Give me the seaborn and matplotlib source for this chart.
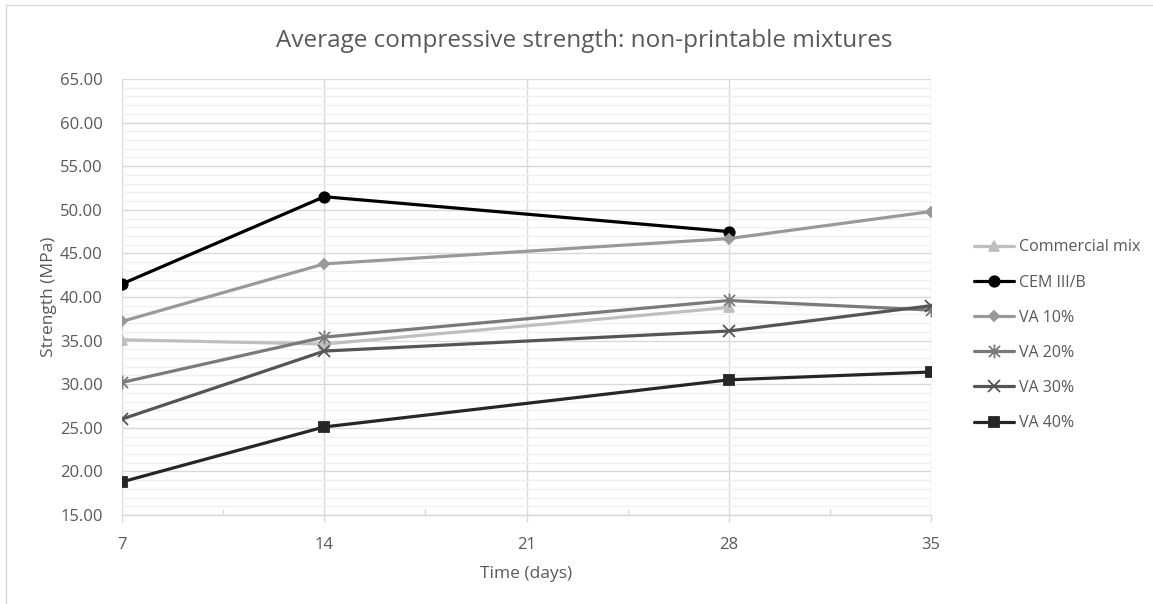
import matplotlib
matplotlib.use("Agg")
import matplotlib.pyplot as plt
from matplotlib.path import Path
from matplotlib.lines import Line2D
from matplotlib.ticker import MultipleLocator, FormatStrFormatter
import seaborn as sns

# Test ages (days) and average compressive strength (MPa)
days_short = [7, 14, 28]
days_full = [7, 14, 28, 35]

commercial_mix = [35.1, 34.6, 38.8]
cem_iii_b = [41.5, 51.5, 47.5]
va_10 = [37.2, 43.8, 46.7, 49.8]
va_20 = [30.2, 35.4, 39.6, 38.5]
va_30 = [26.0, 33.8, 36.1, 39.0]
va_40 = [18.8, 25.1, 30.5, 31.4]

series_labels = ["Commercial mix", "CEM III/B", "VA 10%", "VA 20%", "VA 30%", "VA 40%"]
x_ticks = [7, 14, 21, 28, 35]

sns.set_theme(style="white")
plt.rcParams["font.family"] = ["Open Sans", "DejaVu Sans"]

text_col = "#595959"

# Asterisk marker: a cross with a vertical stroke
star_path = Path(
    [(-1, -1), (1, 1), (-1, 1), (1, -1), (0, -1.25), (0, 1.25)],
    [Path.MOVETO, Path.LINETO, Path.MOVETO, Path.LINETO, Path.MOVETO, Path.LINETO],
)

styles = [
    (days_short, commercial_mix, "#bfbfbf", "^", 7),
    (days_short, cem_iii_b, "#000000", "o", 7.5),
    (days_full, va_10, "#999999", "D", 5.5),
    (days_full, va_20, "#7a7a7a", star_path, 10),
    (days_full, va_30, "#555555", "x", 8),
    (days_full, va_40, "#262626", "s", 7.5),
]

fig = plt.figure(figsize=(11.53, 6.04), dpi=100)
ax = fig.add_axes([122 / 1153, 1 - 515 / 604, (931 - 122) / 1153, (515 - 79) / 604])

for (xs, ys, col, mk, ms), lab in zip(styles, series_labels):
    sns.lineplot(
        x=xs, y=ys, ax=ax, color=col, marker=mk, markersize=ms,
        markeredgecolor=col, markerfacecolor=col, markeredgewidth=1.3,
        linewidth=2.3, label=lab, legend=False,
    )

ax.set_xlim(7, 35)
ax.set_ylim(15, 65)
ax.set_xticks(x_ticks)
ax.xaxis.set_minor_locator(MultipleLocator(3.5))
ax.yaxis.set_major_locator(MultipleLocator(5))
ax.yaxis.set_minor_locator(MultipleLocator(1))
ax.yaxis.set_major_formatter(FormatStrFormatter("%.2f"))

ax.grid(which="major", axis="both", color="#d9d9d9", linewidth=1.0)
ax.grid(which="minor", axis="y", color="#f0f0f0", linewidth=1.0)
ax.set_axisbelow(True)

for side in ["top", "right", "left"]:
    ax.spines[side].set_visible(False)
ax.spines["bottom"].set_color("#d9d9d9")
ax.spines["bottom"].set_linewidth(1.0)

ax.tick_params(axis="x", which="major", direction="out", length=5, width=1,
               color="#d9d9d9", labelsize=12, labelcolor=text_col, pad=11, bottom=True)
ax.tick_params(axis="x", which="minor", direction="in", length=4, width=1,
               color="#d9d9d9", bottom=True)
ax.tick_params(axis="y", which="both", length=0, labelsize=12, labelcolor=text_col, pad=14)

ax.set_xlabel("Time (days)", fontsize=12.5, color=text_col, labelpad=9)
ax.set_ylabel("Strength (MPa)", fontsize=12.5, color=text_col, labelpad=2)

fig.suptitle("Average compressive strength: non-printable mixtures",
             x=584 / 1153, y=1 - 41 / 604, va="center", fontsize=17.5, color=text_col)

handles, labels = ax.get_legend_handles_labels()
fig.legend(handles, labels, loc="upper left", bbox_to_anchor=(968 / 1153, 1 - 233 / 604),
           frameon=False, fontsize=11.5, labelcolor=text_col, handlelength=2.5,
           handletextpad=0.3, labelspacing=1.2, borderaxespad=0)

# Light frame around the chart area
frame_col = "#d9d9d9"
fig.add_artist(Line2D([6 / 1153, 6 / 1153], [0, 1 - 5 / 604], transform=fig.transFigure,
                      color=frame_col, linewidth=1))
fig.add_artist(Line2D([6 / 1153, 1], [1 - 5 / 604, 1 - 5 / 604], transform=fig.transFigure,
                      color=frame_col, linewidth=1))

fig.savefig("out.png", dpi=100, facecolor="white")
